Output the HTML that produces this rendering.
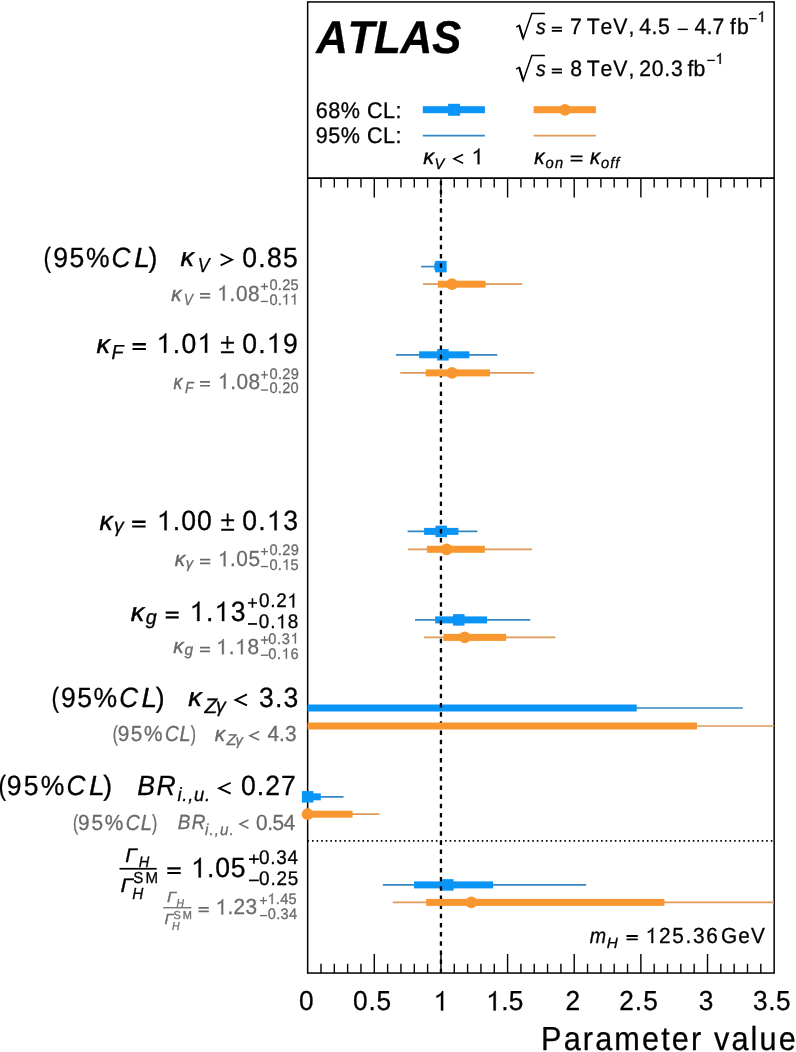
<!DOCTYPE html>
<html><head><meta charset="utf-8"><style>
html,body{margin:0;padding:0;background:#fff;}
svg{display:block;will-change:transform;}
text{font-family:"Liberation Sans",sans-serif;font-kerning:none;text-rendering:geometricPrecision;}
</style></head><body>
<svg width="796" height="1052" viewBox="0 0 796 1052">
<rect width="796" height="1052" fill="#fff"/>
<rect x="307.65" y="1.95" width="466.50" height="971.10" fill="none" stroke="#000" stroke-width="1.5"/>
<line x1="307.65" y1="178.2" x2="774.15" y2="178.2" stroke="#000" stroke-width="1.7"/>
<path d="M320.98 178.2V187.6 M320.98 973.05V963.8 M334.31 178.2V187.6 M334.31 973.05V963.8 M347.64 178.2V187.6 M347.64 973.05V963.8 M360.96 178.2V187.6 M360.96 973.05V963.8 M374.29 178.2V197.6 M374.29 973.05V954.0 M387.62 178.2V187.6 M387.62 973.05V963.8 M400.95 178.2V187.6 M400.95 973.05V963.8 M414.28 178.2V187.6 M414.28 973.05V963.8 M427.61 178.2V187.6 M427.61 973.05V963.8 M440.94 178.2V197.6 M440.94 973.05V954.0 M454.26 178.2V187.6 M454.26 973.05V963.8 M467.59 178.2V187.6 M467.59 973.05V963.8 M480.92 178.2V187.6 M480.92 973.05V963.8 M494.25 178.2V187.6 M494.25 973.05V963.8 M507.58 178.2V197.6 M507.58 973.05V954.0 M520.91 178.2V187.6 M520.91 973.05V963.8 M534.24 178.2V187.6 M534.24 973.05V963.8 M547.56 178.2V187.6 M547.56 973.05V963.8 M560.89 178.2V187.6 M560.89 973.05V963.8 M574.22 178.2V197.6 M574.22 973.05V954.0 M587.55 178.2V187.6 M587.55 973.05V963.8 M600.88 178.2V187.6 M600.88 973.05V963.8 M614.21 178.2V187.6 M614.21 973.05V963.8 M627.54 178.2V187.6 M627.54 973.05V963.8 M640.86 178.2V197.6 M640.86 973.05V954.0 M654.19 178.2V187.6 M654.19 973.05V963.8 M667.52 178.2V187.6 M667.52 973.05V963.8 M680.85 178.2V187.6 M680.85 973.05V963.8 M694.18 178.2V187.6 M694.18 973.05V963.8 M707.51 178.2V197.6 M707.51 973.05V954.0 M720.84 178.2V187.6 M720.84 973.05V963.8 M734.16 178.2V187.6 M734.16 973.05V963.8 M747.49 178.2V187.6 M747.49 973.05V963.8 M760.82 178.2V187.6 M760.82 973.05V963.8" stroke="#000" stroke-width="1.4" fill="none"/>
<line x1="421.1" y1="266.6" x2="440.9" y2="266.6" stroke="#3586c2" stroke-width="1.7"/><rect x="434.3" y="263.1" width="6.6" height="7" fill="#0a94f6"/><rect x="435.15" y="260.85" width="11.5" height="11.5" fill="#0a94f6"/>
<line x1="396.0" y1="354.8" x2="497.3" y2="354.8" stroke="#3586c2" stroke-width="1.7"/><rect x="419.1" y="351.3" width="50.3" height="7" fill="#0a94f6"/><rect x="437.15" y="349.05" width="11.5" height="11.5" fill="#0a94f6"/>
<line x1="407.6" y1="531.4" x2="477.4" y2="531.4" stroke="#3586c2" stroke-width="1.7"/><rect x="424.1" y="527.9" width="34.3" height="7" fill="#0a94f6"/><rect x="435.45" y="525.65" width="11.5" height="11.5" fill="#0a94f6"/>
<line x1="415.0" y1="619.9" x2="530.3" y2="619.9" stroke="#3586c2" stroke-width="1.7"/><rect x="435.2" y="616.4" width="51.9" height="7" fill="#0a94f6"/><rect x="453.05" y="614.15" width="11.5" height="11.5" fill="#0a94f6"/>
<line x1="307.6" y1="708.0" x2="742.8" y2="708.0" stroke="#3586c2" stroke-width="1.7"/><rect x="307.6" y="704.5" width="329.1" height="7" fill="#0a94f6"/>
<line x1="307.6" y1="796.8" x2="343.5" y2="796.8" stroke="#3586c2" stroke-width="1.7"/><rect x="307.6" y="793.3" width="13.2" height="7" fill="#0a94f6"/><rect x="301.90" y="791.05" width="11.5" height="11.5" fill="#0a94f6"/>
<line x1="382.8" y1="884.9" x2="586.2" y2="884.9" stroke="#3586c2" stroke-width="1.7"/><rect x="414.0" y="881.4" width="79.1" height="7" fill="#0a94f6"/><rect x="442.05" y="879.15" width="11.5" height="11.5" fill="#0a94f6"/>
<line x1="440.94" y1="178.2" x2="440.94" y2="973" stroke="#000" stroke-width="2.3" stroke-dasharray="4.5 4.663" stroke-dashoffset="6.68"/>
<line x1="307.4" y1="840.9" x2="774.15" y2="840.9" stroke="#000" stroke-width="1.6" stroke-dasharray="1.6 2.988"/>
<line x1="422.9" y1="284.2" x2="522.2" y2="284.2" stroke="#dd9a58" stroke-width="1.7"/><rect x="437.8" y="280.7" width="47.8" height="7" fill="#f8972f"/><circle cx="451.9" cy="284.2" r="5.9" fill="#f8972f"/>
<line x1="400.3" y1="372.9" x2="534.2" y2="372.9" stroke="#dd9a58" stroke-width="1.7"/><rect x="425.7" y="369.4" width="64.3" height="7" fill="#f8972f"/><circle cx="452.0" cy="372.9" r="5.9" fill="#f8972f"/>
<line x1="407.9" y1="549.3" x2="531.9" y2="549.3" stroke="#dd9a58" stroke-width="1.7"/><rect x="426.9" y="545.8" width="58.0" height="7" fill="#f8972f"/><circle cx="446.6" cy="549.3" r="5.9" fill="#f8972f"/>
<line x1="424.1" y1="637.4" x2="555.3" y2="637.4" stroke="#dd9a58" stroke-width="1.7"/><rect x="443.4" y="633.9" width="62.8" height="7" fill="#f8972f"/><circle cx="464.7" cy="637.4" r="5.9" fill="#f8972f"/>
<line x1="307.6" y1="726.0" x2="774.1" y2="726.0" stroke="#dd9a58" stroke-width="1.7"/><rect x="307.6" y="722.5" width="389.4" height="7" fill="#f8972f"/>
<line x1="307.6" y1="814.2" x2="379.5" y2="814.2" stroke="#dd9a58" stroke-width="1.7"/><rect x="307.6" y="810.7" width="44.9" height="7" fill="#f8972f"/><circle cx="307.6" cy="814.2" r="5.9" fill="#f8972f"/>
<line x1="392.9" y1="902.4" x2="774.1" y2="902.4" stroke="#dd9a58" stroke-width="1.7"/><rect x="426.2" y="898.9" width="238.2" height="7" fill="#f8972f"/><circle cx="471.3" cy="902.4" r="5.9" fill="#f8972f"/>
<line x1="422.8" y1="135.7" x2="484.9" y2="135.7" stroke="#3586c2" stroke-width="1.7"/>
<rect x="422.8" y="106.2" width="62.1" height="7" fill="#0a94f6"/><rect x="448.1" y="103.8" width="12" height="12" fill="#0a94f6"/>
<line x1="533.6" y1="135.7" x2="595.9" y2="135.7" stroke="#dd9a58" stroke-width="1.7"/>
<rect x="533.6" y="106.2" width="62.3" height="7" fill="#f8972f"/><circle cx="565" cy="109.8" r="5.9" fill="#f8972f"/>
<text transform="translate(316.18 53.40) scale(0.96 1)" font-size="45.8" fill="#000" style="font-style:italic;font-weight:bold;letter-spacing:-0.361px;" stroke="#000" stroke-width="0.30" stroke-linejoin="round">ATLAS</text>
<path d="M516.2 27.2 L519.2 25.4 L523.2 38.6 L531.8 13.4 H544.9" fill="none" stroke="#000" stroke-width="1.45" stroke-linejoin="miter"/>
<path d="M519.2 25.4 L523.2 38.6" fill="none" stroke="#000" stroke-width="2.0"/>
<text transform="translate(535.94 34.10) scale(0.9045284780578853 1)" font-size="21.6" fill="#000" style="font-style:italic;" stroke="#000" stroke-width="0.30" stroke-linejoin="round">s</text>
<path d="M551.8 26.8H562.0V28.5H551.8Z M551.8 30.1H562.0V31.700000000000003H551.8Z" fill="#000"/>
<path d="M516.2 69.2 L519.2 67.4 L523.2 80.6 L531.8 55.4 H544.9" fill="none" stroke="#000" stroke-width="1.45" stroke-linejoin="miter"/>
<path d="M519.2 67.4 L523.2 80.6" fill="none" stroke="#000" stroke-width="2.0"/>
<text transform="translate(535.94 75.80) scale(0.9045284780578853 1)" font-size="21.6" fill="#000" style="font-style:italic;" stroke="#000" stroke-width="0.30" stroke-linejoin="round">s</text>
<path d="M551.8 68.5H562.0V70.2H551.8Z M551.8 71.8H562.0V73.39999999999999H551.8Z" fill="#000"/>
<text transform="translate(570.12 34.10) scale(0.955 1)" font-size="22.2" fill="#000" style="" stroke="#000" stroke-width="0.30" stroke-linejoin="round">7</text>
<text transform="translate(586.83 34.10) scale(0.955 1)" font-size="22.2" fill="#000" style="letter-spacing:0.885px;" stroke="#000" stroke-width="0.30" stroke-linejoin="round">TeV</text>
<text transform="translate(628.39 34.10) scale(0.955 1)" font-size="22.2" fill="#000" style="" stroke="#000" stroke-width="0.30" stroke-linejoin="round">,</text>
<text transform="translate(586.83 75.90) scale(0.955 1)" font-size="22.2" fill="#000" style="letter-spacing:0.885px;" stroke="#000" stroke-width="0.30" stroke-linejoin="round">TeV</text>
<text transform="translate(628.39 75.90) scale(0.955 1)" font-size="22.2" fill="#000" style="" stroke="#000" stroke-width="0.30" stroke-linejoin="round">,</text>
<text transform="translate(639.31 34.10) scale(0.955 1)" font-size="22.2" fill="#000" style="letter-spacing:0.528px;" stroke="#000" stroke-width="0.30" stroke-linejoin="round">4.5</text>
<rect x="677.7" y="28.6" width="10.1" height="1.5" fill="#000"/>
<text transform="translate(694.51 34.10) scale(0.955 1)" font-size="22.2" fill="#000" style="letter-spacing:0.146px;" stroke="#000" stroke-width="0.30" stroke-linejoin="round">4.7</text>
<text transform="translate(729.90 34.10) scale(0.955 1)" font-size="22.2" fill="#000" style="letter-spacing:1.158px;" stroke="#000" stroke-width="0.30" stroke-linejoin="round">fb</text>
<rect x="749.1" y="18.05" width="7.5" height="1.3" fill="#000"/>
<text transform="translate(757.51 22.00) scale(0.955 1)" font-size="15.4" fill="#000" style="" stroke="#000" stroke-width="0.30" stroke-linejoin="round"> </text>
<path transform="translate(757.51 22.00) scale(14.707 15.4)" d="M0.359 0V-0.703H0.318C0.29 -0.63 0.215 -0.572 0.101 -0.53V-0.458C0.17 -0.48 0.23 -0.512 0.274 -0.55V0Z" fill="#000" stroke="#000" stroke-width="0.0195" stroke-linejoin="round"/>
<text transform="translate(570.29 75.90) scale(0.955 1)" font-size="22.2" fill="#000" style="" stroke="#000" stroke-width="0.30" stroke-linejoin="round">8</text>
<text transform="translate(639.24 75.90) scale(0.955 1)" font-size="22.2" fill="#000" style="letter-spacing:0.780px;" stroke="#000" stroke-width="0.30" stroke-linejoin="round">20.3</text>
<text transform="translate(687.50 75.90) scale(0.955 1)" font-size="22.2" fill="#000" style="letter-spacing:0.111px;" stroke="#000" stroke-width="0.30" stroke-linejoin="round">fb</text>
<rect x="707.2" y="59.75" width="7.6" height="1.3" fill="#000"/>
<text transform="translate(715.51 63.90) scale(0.955 1)" font-size="15.4" fill="#000" style="" stroke="#000" stroke-width="0.30" stroke-linejoin="round"> </text>
<path transform="translate(715.51 63.90) scale(14.707 15.4)" d="M0.359 0V-0.703H0.318C0.29 -0.63 0.215 -0.572 0.101 -0.53V-0.458C0.17 -0.48 0.23 -0.512 0.274 -0.55V0Z" fill="#000" stroke="#000" stroke-width="0.0195" stroke-linejoin="round"/>
<text transform="translate(315.70 117.80) scale(0.955 1)" font-size="22.6" fill="#000" style="letter-spacing:0.536px;" stroke="#000" stroke-width="0.30" stroke-linejoin="round">68% CL:</text>
<text transform="translate(315.79 143.40) scale(0.955 1)" font-size="22.6" fill="#000" style="letter-spacing:0.521px;" stroke="#000" stroke-width="0.30" stroke-linejoin="round">95% CL:</text>
<text transform="translate(423.33 164.20) scale(1.0072094995759147 1)" font-size="21.6" fill="#000" style="font-style:italic;" stroke="#000" stroke-width="0.40" stroke-linejoin="round">κ</text>
<text transform="translate(434.62 168.70) scale(0.955 1)" font-size="15.4" fill="#000" style="font-style:italic;" stroke="#000" stroke-width="0.30" stroke-linejoin="round">V</text>
<path d="M463.10 154.42L453.96 158.85L463.10 163.28" stroke="#000" stroke-width="1.6" fill="none" stroke-linejoin="miter" stroke-miterlimit="10"/>
<text transform="translate(471.73 164.20) scale(0.955 1)" font-size="22.5" fill="#000" style="" stroke="#000" stroke-width="0.30" stroke-linejoin="round"> </text>
<path transform="translate(471.73 164.20) scale(21.488 22.5)" d="M0.359 0V-0.703H0.318C0.29 -0.63 0.215 -0.572 0.101 -0.53V-0.458C0.17 -0.48 0.23 -0.512 0.274 -0.55V0Z" fill="#000" stroke="#000" stroke-width="0.0133" stroke-linejoin="round"/>
<text transform="translate(534.15 164.10) scale(0.9541984732824387 1)" font-size="21.6" fill="#000" style="font-style:italic;" stroke="#000" stroke-width="0.40" stroke-linejoin="round">κ</text>
<text transform="translate(545.61 167.70) scale(0.955 1)" font-size="15.4" fill="#000" style="font-style:italic;letter-spacing:1.249px;" stroke="#000" stroke-width="0.30" stroke-linejoin="round">on</text>
<path d="M570.6 155.5H582.5V157.3H570.6Z M570.6 159.8H582.5V161.6H570.6Z" fill="#000"/>
<text transform="translate(589.95 164.10) scale(0.9453633022335353 1)" font-size="21.6" fill="#000" style="font-style:italic;" stroke="#000" stroke-width="0.40" stroke-linejoin="round">κ</text>
<text transform="translate(601.11 168.30) scale(0.955 1)" font-size="15.4" fill="#000" style="font-style:italic;letter-spacing:1.030px;" stroke="#000" stroke-width="0.30" stroke-linejoin="round">off</text>
<text transform="translate(43.50 266.70) scale(0.8144427853943259 1)" font-size="27.8" fill="#000" style="" stroke="#000" stroke-width="0.30" stroke-linejoin="round">(</text>
<text transform="translate(53.25 266.70) scale(0.955 1)" font-size="27.8" fill="#000" style="letter-spacing:1.651px;" stroke="#000" stroke-width="0.30" stroke-linejoin="round">95%</text>
<text transform="translate(111.56 266.70) scale(0.9421034600890729 1)" font-size="27.8" fill="#000" style="font-style:italic;" stroke="#000" stroke-width="0.30" stroke-linejoin="round">C</text>
<text transform="translate(134.13 266.70) scale(1.0119377025851857 1)" font-size="27.8" fill="#000" style="font-style:italic;" stroke="#000" stroke-width="0.30" stroke-linejoin="round">L</text>
<text transform="translate(148.44 266.70) scale(0.955 1)" font-size="27.8" fill="#000" style="" stroke="#000" stroke-width="0.30" stroke-linejoin="round">)</text>
<text transform="translate(180.44 266.30) scale(1.0270380513956059 1)" font-size="26.2" fill="#000" style="font-style:italic;" stroke="#000" stroke-width="0.50" stroke-linejoin="round">κ</text>
<text transform="translate(197.75 271.70) scale(0.8772521762602056 1)" font-size="20.3" fill="#000" style="font-style:italic;" stroke="#000" stroke-width="0.30" stroke-linejoin="round">V</text>
<path d="M220.65 254.20L231.96 259.77L220.65 265.34" stroke="#000" stroke-width="1.9" fill="none" stroke-linejoin="miter" stroke-miterlimit="10"/>
<text transform="translate(242.26 266.70) scale(0.955 1)" font-size="27.8" fill="#000" style="letter-spacing:1.356px;" stroke="#000" stroke-width="0.30" stroke-linejoin="round">0.85</text>
<text transform="translate(96.44 353.00) scale(1.0343220092069219 1)" font-size="26.2" fill="#000" style="font-style:italic;" stroke="#000" stroke-width="0.50" stroke-linejoin="round">κ</text>
<text transform="translate(111.39 358.80) scale(0.9663657576543235 1)" font-size="20.3" fill="#000" style="font-style:italic;" stroke="#000" stroke-width="0.30" stroke-linejoin="round">F</text>
<path d="M132.5 343.1H145.9V345.5H132.5Z M132.5 347.9H145.9V350.1H132.5Z" fill="#000"/>
<text transform="translate(156.72 352.80) scale(0.955 1)" font-size="27.8" fill="#000" style="letter-spacing:1.411px;" stroke="#000" stroke-width="0.30" stroke-linejoin="round"> .0 </text>
<path transform="translate(156.72 352.80) scale(26.549 27.8)" d="M0.359 0V-0.703H0.318C0.29 -0.63 0.215 -0.572 0.101 -0.53V-0.458C0.17 -0.48 0.23 -0.512 0.274 -0.55V0Z" fill="#000" stroke="#000" stroke-width="0.0108" stroke-linejoin="round"/>
<path transform="translate(197.67 352.80) scale(26.549 27.8)" d="M0.359 0V-0.703H0.318C0.29 -0.63 0.215 -0.572 0.101 -0.53V-0.458C0.17 -0.48 0.23 -0.512 0.274 -0.55V0Z" fill="#000" stroke="#000" stroke-width="0.0108" stroke-linejoin="round"/>
<path d="M221.00 342.69H233.90M227.45 336.02V348.86M221.00 352.19H233.90" stroke="#000" stroke-width="1.87" fill="none"/>
<text transform="translate(242.26 352.80) scale(0.955 1)" font-size="27.8" fill="#000" style="letter-spacing:1.368px;" stroke="#000" stroke-width="0.30" stroke-linejoin="round">0. 9</text>
<path transform="translate(267.02 352.80) scale(26.549 27.8)" d="M0.359 0V-0.703H0.318C0.29 -0.63 0.215 -0.572 0.101 -0.53V-0.458C0.17 -0.48 0.23 -0.512 0.274 -0.55V0Z" fill="#000" stroke="#000" stroke-width="0.0108" stroke-linejoin="round"/>
<text transform="translate(99.45 529.80) scale(0.9900705963381734 1)" font-size="26.6" fill="#000" style="font-style:italic;" stroke="#000" stroke-width="0.50" stroke-linejoin="round">κ</text>
<text transform="translate(113.95 532.40) scale(0.9985957247620527 1)" font-size="19.5" fill="#000" style="font-style:italic;" stroke="#000" stroke-width="0.30" stroke-linejoin="round">γ</text>
<path d="M132.2 520.6H145.6V522.9H132.2Z M132.2 525.4H145.6V527.6H132.2Z" fill="#000"/>
<text transform="translate(157.12 530.30) scale(0.955 1)" font-size="27.8" fill="#000" style="letter-spacing:0.996px;" stroke="#000" stroke-width="0.30" stroke-linejoin="round"> .00</text>
<path transform="translate(157.12 530.30) scale(26.549 27.8)" d="M0.359 0V-0.703H0.318C0.29 -0.63 0.215 -0.572 0.101 -0.53V-0.458C0.17 -0.48 0.23 -0.512 0.274 -0.55V0Z" fill="#000" stroke="#000" stroke-width="0.0108" stroke-linejoin="round"/>
<path d="M221.20 520.19H234.10M227.65 513.52V526.36M221.20 529.69H234.10" stroke="#000" stroke-width="1.87" fill="none"/>
<text transform="translate(242.16 530.30) scale(0.955 1)" font-size="27.8" fill="#000" style="letter-spacing:1.480px;" stroke="#000" stroke-width="0.30" stroke-linejoin="round">0. 3</text>
<path transform="translate(267.13 530.30) scale(26.549 27.8)" d="M0.359 0V-0.703H0.318C0.29 -0.63 0.215 -0.572 0.101 -0.53V-0.458C0.17 -0.48 0.23 -0.512 0.274 -0.55V0Z" fill="#000" stroke="#000" stroke-width="0.0108" stroke-linejoin="round"/>
<text transform="translate(130.74 621.10) scale(1.0343220092069239 1)" font-size="26.2" fill="#000" style="font-style:italic;" stroke="#000" stroke-width="0.50" stroke-linejoin="round">κ</text>
<text transform="translate(145.86 623.50) scale(0.9761829439146728 1)" font-size="20.3" fill="#000" style="font-style:italic;" stroke="#000" stroke-width="0.30" stroke-linejoin="round">g</text>
<path d="M165.7 611.4H178.7V613.8H165.7Z M165.7 616.2H178.7V618.4H165.7Z" fill="#000"/>
<text transform="translate(189.92 621.10) scale(0.955 1)" font-size="27.8" fill="#000" style="letter-spacing:1.391px;" stroke="#000" stroke-width="0.30" stroke-linejoin="round"> . 3</text>
<path transform="translate(189.92 621.10) scale(26.549 27.8)" d="M0.359 0V-0.703H0.318C0.29 -0.63 0.215 -0.572 0.101 -0.53V-0.458C0.17 -0.48 0.23 -0.512 0.274 -0.55V0Z" fill="#000" stroke="#000" stroke-width="0.0108" stroke-linejoin="round"/>
<path transform="translate(214.72 621.10) scale(26.549 27.8)" d="M0.359 0V-0.703H0.318C0.29 -0.63 0.215 -0.572 0.101 -0.53V-0.458C0.17 -0.48 0.23 -0.512 0.274 -0.55V0Z" fill="#000" stroke="#000" stroke-width="0.0108" stroke-linejoin="round"/>
<path d="M247.90 602.95H257.00M252.45 598.20V607.70" stroke="#000" stroke-width="1.6" fill="none"/>
<text transform="translate(258.96 607.40) scale(0.955 1)" font-size="19.8" fill="#000" style="letter-spacing:0.755px;" stroke="#000" stroke-width="0.30" stroke-linejoin="round">0.2 </text>
<path transform="translate(287.41 607.40) scale(18.909 19.8)" d="M0.359 0V-0.703H0.318C0.29 -0.63 0.215 -0.572 0.101 -0.53V-0.458C0.17 -0.48 0.23 -0.512 0.274 -0.55V0Z" fill="#000" stroke="#000" stroke-width="0.0152" stroke-linejoin="round"/>
<rect x="248.00" y="623.10" width="9.00" height="1.70" fill="#000"/>
<text transform="translate(258.86 628.30) scale(0.955 1)" font-size="19.8" fill="#000" style="letter-spacing:0.891px;" stroke="#000" stroke-width="0.30" stroke-linejoin="round">0. 8</text>
<path transform="translate(276.33 628.30) scale(18.909 19.8)" d="M0.359 0V-0.703H0.318C0.29 -0.63 0.215 -0.572 0.101 -0.53V-0.458C0.17 -0.48 0.23 -0.512 0.274 -0.55V0Z" fill="#000" stroke="#000" stroke-width="0.0152" stroke-linejoin="round"/>
<text transform="translate(51.40 706.90) scale(0.8107508416708702 1)" font-size="27.8" fill="#000" style="" stroke="#000" stroke-width="0.30" stroke-linejoin="round">(</text>
<text transform="translate(61.11 706.90) scale(0.955 1)" font-size="27.8" fill="#000" style="letter-spacing:1.522px;" stroke="#000" stroke-width="0.30" stroke-linejoin="round">95%</text>
<text transform="translate(119.16 706.90) scale(0.9378328188375352 1)" font-size="27.8" fill="#000" style="font-style:italic;" stroke="#000" stroke-width="0.30" stroke-linejoin="round">C</text>
<text transform="translate(141.62 706.90) scale(1.0073504963177995 1)" font-size="27.8" fill="#000" style="font-style:italic;" stroke="#000" stroke-width="0.30" stroke-linejoin="round">L</text>
<text transform="translate(155.87 706.90) scale(0.955 1)" font-size="27.8" fill="#000" style="" stroke="#000" stroke-width="0.30" stroke-linejoin="round">)</text>
<text transform="translate(188.14 706.00) scale(1.0343220092069239 1)" font-size="26.2" fill="#000" style="font-style:italic;" stroke="#000" stroke-width="0.50" stroke-linejoin="round">κ</text>
<text transform="translate(204.60 712.50) scale(0.9914604139528163 1)" font-size="21.0" fill="#000" style="font-style:italic;" stroke="#000" stroke-width="0.30" stroke-linejoin="round">Z</text>
<text transform="translate(216.05 712.10) scale(1.003743125405156 1)" font-size="19.4" fill="#000" style="font-style:italic;" stroke="#000" stroke-width="0.30" stroke-linejoin="round">γ</text>
<path d="M246.95 694.46L235.54 699.90L246.95 705.35" stroke="#000" stroke-width="1.9" fill="none" stroke-linejoin="miter" stroke-miterlimit="10"/>
<text transform="translate(259.09 706.90) scale(0.955 1)" font-size="27.8" fill="#000" style="letter-spacing:1.138px;" stroke="#000" stroke-width="0.30" stroke-linejoin="round">3.3</text>
<text transform="translate(-1.60 794.70) scale(0.8137043966496348 1)" font-size="27.8" fill="#000" style="" stroke="#000" stroke-width="0.30" stroke-linejoin="round">(</text>
<text transform="translate(6.85 794.70) scale(0.955 1)" font-size="27.8" fill="#000" style="letter-spacing:2.301px;" stroke="#000" stroke-width="0.30" stroke-linejoin="round">95%</text>
<text transform="translate(66.40 794.70) scale(0.9412493318387654 1)" font-size="27.8" fill="#000" style="font-style:italic;" stroke="#000" stroke-width="0.30" stroke-linejoin="round">C</text>
<text transform="translate(88.95 794.70) scale(1.0110202613317087 1)" font-size="27.8" fill="#000" style="font-style:italic;" stroke="#000" stroke-width="0.30" stroke-linejoin="round">L</text>
<text transform="translate(103.25 794.70) scale(0.955 1)" font-size="27.8" fill="#000" style="" stroke="#000" stroke-width="0.30" stroke-linejoin="round">)</text>
<text transform="translate(137.28 794.50) scale(0.955 1)" font-size="27.8" fill="#000" style="font-style:italic;letter-spacing:1.643px;" stroke="#000" stroke-width="0.30" stroke-linejoin="round">BR</text>
<text transform="translate(177.51 800.60) scale(0.955 1)" font-size="19.3" fill="#000" style="font-style:italic;letter-spacing:0.772px;" stroke="#000" stroke-width="0.30" stroke-linejoin="round">i.,u.</text>
<path d="M230.65 782.75L219.14 788.20L230.65 793.64" stroke="#000" stroke-width="1.9" fill="none" stroke-linejoin="miter" stroke-miterlimit="10"/>
<text transform="translate(241.06 794.50) scale(0.955 1)" font-size="27.8" fill="#000" style="letter-spacing:1.082px;" stroke="#000" stroke-width="0.30" stroke-linejoin="round">0.27</text>
<text transform="translate(125.25 861.60) scale(1.0702341137123748 1)" font-size="19.5" fill="#000" style="font-style:italic;" stroke="#000" stroke-width="0.30" stroke-linejoin="round">Γ</text>
<text transform="translate(138.65 866.60) scale(0.9539461256564278 1)" font-size="15.3" fill="#000" style="font-style:italic;" stroke="#000" stroke-width="0.30" stroke-linejoin="round">H</text>
<rect x="119.5" y="867.9" width="37.2" height="1.7" fill="#000"/>
<text transform="translate(120.61 891.70) scale(1.1415830546265329 1)" font-size="19.5" fill="#000" style="font-style:italic;" stroke="#000" stroke-width="0.30" stroke-linejoin="round">Γ</text>
<text transform="translate(133.31 883.30) scale(0.955 1)" font-size="15.8" fill="#000" style="letter-spacing:2.197px;" stroke="#000" stroke-width="0.30" stroke-linejoin="round">SM</text>
<text transform="translate(132.13 899.30) scale(0.9573699421965314 1)" font-size="16.0" fill="#000" style="font-style:italic;" stroke="#000" stroke-width="0.30" stroke-linejoin="round">H</text>
<path d="M167.3 867.3H180.7V869.5H167.3Z M167.3 872.0H180.7V874.1H167.3Z" fill="#000"/>
<text transform="translate(191.32 877.40) scale(0.955 1)" font-size="27.8" fill="#000" style="letter-spacing:0.919px;" stroke="#000" stroke-width="0.30" stroke-linejoin="round"> .05</text>
<path transform="translate(191.32 877.40) scale(26.549 27.8)" d="M0.359 0V-0.703H0.318C0.29 -0.63 0.215 -0.572 0.101 -0.53V-0.458C0.17 -0.48 0.23 -0.512 0.274 -0.55V0Z" fill="#000" stroke="#000" stroke-width="0.0108" stroke-linejoin="round"/>
<path d="M249.00 859.10H258.80M253.90 854.40V863.80" stroke="#000" stroke-width="1.6" fill="none"/>
<text transform="translate(259.06 863.60) scale(0.955 1)" font-size="19.8" fill="#000" style="letter-spacing:0.799px;" stroke="#000" stroke-width="0.30" stroke-linejoin="round">0.34</text>
<rect x="249.00" y="879.55" width="9.80" height="1.70" fill="#000"/>
<text transform="translate(259.06 884.60) scale(0.955 1)" font-size="19.8" fill="#000" style="letter-spacing:0.885px;" stroke="#000" stroke-width="0.30" stroke-linejoin="round">0.25</text>
<text transform="translate(171.25 300.70) scale(0.9817234292425148 1)" font-size="20.8" fill="#6a6a6a" style="font-style:italic;" stroke="#6a6a6a" stroke-width="0.45" stroke-linejoin="round">κ</text>
<text transform="translate(183.81 304.50) scale(0.8561643835616438 1)" font-size="16.0" fill="#6a6a6a" style="font-style:italic;" stroke="#6a6a6a" stroke-width="0.30" stroke-linejoin="round">V</text>
<path d="M200.0 293.0H210.2V294.7H200.0Z M200.0 296.8H210.2V298.5H200.0Z" fill="#6a6a6a"/>
<text transform="translate(217.20 300.60) scale(0.955 1)" font-size="21.8" fill="#6a6a6a" style="letter-spacing:0.693px;" stroke="#6a6a6a" stroke-width="0.30" stroke-linejoin="round"> .08</text>
<path transform="translate(217.20 300.60) scale(20.819 21.8)" d="M0.359 0V-0.703H0.318C0.29 -0.63 0.215 -0.572 0.101 -0.53V-0.458C0.17 -0.48 0.23 -0.512 0.274 -0.55V0Z" fill="#6a6a6a" stroke="#6a6a6a" stroke-width="0.0138" stroke-linejoin="round"/>
<path d="M260.85 286.50H268.00M264.43 283.00V290.00" stroke="#6a6a6a" stroke-width="1.3" fill="none"/>
<text transform="translate(269.43 289.80) scale(0.955 1)" font-size="15.3" fill="#6a6a6a" style="letter-spacing:0.297px;" stroke="#6a6a6a" stroke-width="0.30" stroke-linejoin="round">0.25</text>
<rect x="260.85" y="300.77" width="7.15" height="1.35" fill="#6a6a6a"/>
<text transform="translate(269.43 304.60) scale(0.955 1)" font-size="15.3" fill="#6a6a6a" style="letter-spacing:0.144px;" stroke="#6a6a6a" stroke-width="0.30" stroke-linejoin="round">0.  </text>
<path transform="translate(281.89 304.60) scale(14.611 15.3)" d="M0.359 0V-0.703H0.318C0.29 -0.63 0.215 -0.572 0.101 -0.53V-0.458C0.17 -0.48 0.23 -0.512 0.274 -0.55V0Z" fill="#6a6a6a" stroke="#6a6a6a" stroke-width="0.0196" stroke-linejoin="round"/>
<path transform="translate(290.15 304.60) scale(14.611 15.3)" d="M0.359 0V-0.703H0.318C0.29 -0.63 0.215 -0.572 0.101 -0.53V-0.458C0.17 -0.48 0.23 -0.512 0.274 -0.55V0Z" fill="#6a6a6a" stroke="#6a6a6a" stroke-width="0.0196" stroke-linejoin="round"/>
<text transform="translate(173.40 388.70) scale(0.8440986494421624 1)" font-size="20.8" fill="#6a6a6a" style="font-style:italic;" stroke="#6a6a6a" stroke-width="0.45" stroke-linejoin="round">κ</text>
<text transform="translate(185.06 393.10) scale(0.8771929824561415 1)" font-size="16.0" fill="#6a6a6a" style="font-style:italic;" stroke="#6a6a6a" stroke-width="0.30" stroke-linejoin="round">F</text>
<path d="M200.0 381.1H210.0V382.8H200.0Z M200.0 384.9H210.0V386.6H200.0Z" fill="#6a6a6a"/>
<text transform="translate(218.10 388.70) scale(0.955 1)" font-size="21.8" fill="#6a6a6a" style="letter-spacing:0.518px;" stroke="#6a6a6a" stroke-width="0.30" stroke-linejoin="round"> .08</text>
<path transform="translate(218.10 388.70) scale(20.819 21.8)" d="M0.359 0V-0.703H0.318C0.29 -0.63 0.215 -0.572 0.101 -0.53V-0.458C0.17 -0.48 0.23 -0.512 0.274 -0.55V0Z" fill="#6a6a6a" stroke="#6a6a6a" stroke-width="0.0138" stroke-linejoin="round"/>
<path d="M260.85 374.95H268.00M264.43 371.10V378.80" stroke="#6a6a6a" stroke-width="1.3" fill="none"/>
<text transform="translate(269.43 378.80) scale(0.955 1)" font-size="15.3" fill="#6a6a6a" style="letter-spacing:0.392px;" stroke="#6a6a6a" stroke-width="0.30" stroke-linejoin="round">0.29</text>
<rect x="260.85" y="389.38" width="7.15" height="1.35" fill="#6a6a6a"/>
<text transform="translate(269.43 393.30) scale(0.955 1)" font-size="15.3" fill="#6a6a6a" style="letter-spacing:0.281px;" stroke="#6a6a6a" stroke-width="0.30" stroke-linejoin="round">0.20</text>
<text transform="translate(174.85 566.30) scale(0.9908984145625377 1)" font-size="20.8" fill="#6a6a6a" style="font-style:italic;" stroke="#6a6a6a" stroke-width="0.45" stroke-linejoin="round">κ</text>
<text transform="translate(185.80 568.00) scale(1.0141987829614618 1)" font-size="14.6" fill="#6a6a6a" style="font-style:italic;" stroke="#6a6a6a" stroke-width="0.30" stroke-linejoin="round">γ</text>
<path d="M200.0 558.7H210.3V560.4H200.0Z M200.0 562.5H210.3V564.2H200.0Z" fill="#6a6a6a"/>
<text transform="translate(218.00 566.30) scale(0.955 1)" font-size="21.8" fill="#6a6a6a" style="letter-spacing:0.511px;" stroke="#6a6a6a" stroke-width="0.30" stroke-linejoin="round"> .05</text>
<path transform="translate(218.00 566.30) scale(20.819 21.8)" d="M0.359 0V-0.703H0.318C0.29 -0.63 0.215 -0.572 0.101 -0.53V-0.458C0.17 -0.48 0.23 -0.512 0.274 -0.55V0Z" fill="#6a6a6a" stroke="#6a6a6a" stroke-width="0.0138" stroke-linejoin="round"/>
<path d="M260.85 551.55H268.00M264.43 548.10V555.00" stroke="#6a6a6a" stroke-width="1.3" fill="none"/>
<text transform="translate(269.43 555.10) scale(0.955 1)" font-size="15.3" fill="#6a6a6a" style="letter-spacing:0.322px;" stroke="#6a6a6a" stroke-width="0.30" stroke-linejoin="round">0.29</text>
<rect x="260.85" y="565.88" width="7.15" height="1.35" fill="#6a6a6a"/>
<text transform="translate(269.43 569.80) scale(0.955 1)" font-size="15.3" fill="#6a6a6a" style="letter-spacing:0.297px;" stroke="#6a6a6a" stroke-width="0.30" stroke-linejoin="round">0. 5</text>
<path transform="translate(282.18 569.80) scale(14.611 15.3)" d="M0.359 0V-0.703H0.318C0.29 -0.63 0.215 -0.572 0.101 -0.53V-0.458C0.17 -0.48 0.23 -0.512 0.274 -0.55V0Z" fill="#6a6a6a" stroke="#6a6a6a" stroke-width="0.0196" stroke-linejoin="round"/>
<text transform="translate(173.15 653.40) scale(0.9908984145625377 1)" font-size="20.8" fill="#6a6a6a" style="font-style:italic;" stroke="#6a6a6a" stroke-width="0.45" stroke-linejoin="round">κ</text>
<text transform="translate(184.47 655.40) scale(0.9747706422018347 1)" font-size="16.0" fill="#6a6a6a" style="font-style:italic;" stroke="#6a6a6a" stroke-width="0.30" stroke-linejoin="round">g</text>
<path d="M200.0 646.7H210.0V648.4H200.0Z M200.0 650.5H210.0V652.2H200.0Z" fill="#6a6a6a"/>
<text transform="translate(216.30 654.30) scale(0.955 1)" font-size="21.8" fill="#6a6a6a" style="letter-spacing:0.832px;" stroke="#6a6a6a" stroke-width="0.30" stroke-linejoin="round"> . 8</text>
<path transform="translate(216.30 654.30) scale(20.819 21.8)" d="M0.359 0V-0.703H0.318C0.29 -0.63 0.215 -0.572 0.101 -0.53V-0.458C0.17 -0.48 0.23 -0.512 0.274 -0.55V0Z" fill="#6a6a6a" stroke="#6a6a6a" stroke-width="0.0138" stroke-linejoin="round"/>
<path transform="translate(235.25 654.30) scale(20.819 21.8)" d="M0.359 0V-0.703H0.318C0.29 -0.63 0.215 -0.572 0.101 -0.53V-0.458C0.17 -0.48 0.23 -0.512 0.274 -0.55V0Z" fill="#6a6a6a" stroke="#6a6a6a" stroke-width="0.0138" stroke-linejoin="round"/>
<path d="M260.80 640.00H268.30M264.55 636.10V643.90" stroke="#6a6a6a" stroke-width="1.3" fill="none"/>
<text transform="translate(268.13 643.60) scale(0.955 1)" font-size="15.3" fill="#6a6a6a" style="letter-spacing:0.807px;" stroke="#6a6a6a" stroke-width="0.30" stroke-linejoin="round">0.3 </text>
<path transform="translate(290.75 643.60) scale(14.611 15.3)" d="M0.359 0V-0.703H0.318C0.29 -0.63 0.215 -0.572 0.101 -0.53V-0.458C0.17 -0.48 0.23 -0.512 0.274 -0.55V0Z" fill="#6a6a6a" stroke="#6a6a6a" stroke-width="0.0196" stroke-linejoin="round"/>
<rect x="260.80" y="654.53" width="7.50" height="1.35" fill="#6a6a6a"/>
<text transform="translate(268.13 658.80) scale(0.955 1)" font-size="15.3" fill="#6a6a6a" style="letter-spacing:0.760px;" stroke="#6a6a6a" stroke-width="0.30" stroke-linejoin="round">0. 6</text>
<path transform="translate(281.77 658.80) scale(14.611 15.3)" d="M0.359 0V-0.703H0.318C0.29 -0.63 0.215 -0.572 0.101 -0.53V-0.458C0.17 -0.48 0.23 -0.512 0.274 -0.55V0Z" fill="#6a6a6a" stroke="#6a6a6a" stroke-width="0.0196" stroke-linejoin="round"/>
<text transform="translate(112.85 740.80) scale(0.7010559113726843 1)" font-size="21.8" fill="#6a6a6a" style="" stroke="#6a6a6a" stroke-width="0.30" stroke-linejoin="round">(</text>
<text transform="translate(117.82 740.80) scale(0.955 1)" font-size="21.8" fill="#6a6a6a" style="letter-spacing:1.544px;" stroke="#6a6a6a" stroke-width="0.30" stroke-linejoin="round">95%</text>
<text transform="translate(164.94 740.80) scale(0.8805701179554395 1)" font-size="21.8" fill="#6a6a6a" style="font-style:italic;" stroke="#6a6a6a" stroke-width="0.30" stroke-linejoin="round">C</text>
<text transform="translate(179.48 740.80) scale(0.91743119266055 1)" font-size="21.8" fill="#6a6a6a" style="font-style:italic;" stroke="#6a6a6a" stroke-width="0.30" stroke-linejoin="round">L</text>
<text transform="translate(190.71 740.80) scale(0.7097109226241984 1)" font-size="21.8" fill="#6a6a6a" style="" stroke="#6a6a6a" stroke-width="0.30" stroke-linejoin="round">)</text>
<text transform="translate(214.85 740.80) scale(0.9908984145625377 1)" font-size="20.8" fill="#6a6a6a" style="font-style:italic;" stroke="#6a6a6a" stroke-width="0.45" stroke-linejoin="round">κ</text>
<text transform="translate(226.56 745.00) scale(1.0309178556908607 1)" font-size="15.7" fill="#6a6a6a" style="font-style:italic;" stroke="#6a6a6a" stroke-width="0.30" stroke-linejoin="round">Z</text>
<text transform="translate(235.60 744.70) scale(1.0004933940025194 1)" font-size="14.8" fill="#6a6a6a" style="font-style:italic;" stroke="#6a6a6a" stroke-width="0.30" stroke-linejoin="round">γ</text>
<path d="M259.15 731.47L250.00 735.75L259.15 740.03" stroke="#6a6a6a" stroke-width="1.5" fill="none" stroke-linejoin="miter" stroke-miterlimit="10"/>
<text transform="translate(267.42 740.80) scale(0.955 1)" font-size="21.8" fill="#6a6a6a" style="letter-spacing:0.082px;" stroke="#6a6a6a" stroke-width="0.30" stroke-linejoin="round">4.3</text>
<text transform="translate(72.94 830.10) scale(0.7122935523687931 1)" font-size="21.8" fill="#6a6a6a" style="" stroke="#6a6a6a" stroke-width="0.30" stroke-linejoin="round">(</text>
<text transform="translate(78.00 830.10) scale(0.955 1)" font-size="21.8" fill="#6a6a6a" style="letter-spacing:1.904px;" stroke="#6a6a6a" stroke-width="0.30" stroke-linejoin="round">95%</text>
<text transform="translate(125.86 830.10) scale(0.894685298637831 1)" font-size="21.8" fill="#6a6a6a" style="font-style:italic;" stroke="#6a6a6a" stroke-width="0.30" stroke-linejoin="round">C</text>
<text transform="translate(140.63 830.10) scale(0.93213724137151 1)" font-size="21.8" fill="#6a6a6a" style="font-style:italic;" stroke="#6a6a6a" stroke-width="0.30" stroke-linejoin="round">L</text>
<text transform="translate(152.04 830.10) scale(0.7210872999289024 1)" font-size="21.8" fill="#6a6a6a" style="" stroke="#6a6a6a" stroke-width="0.30" stroke-linejoin="round">)</text>
<text transform="translate(177.81 829.20) scale(0.92 1)" font-size="20.6" fill="#6a6a6a" style="font-style:italic;letter-spacing:1.359px;" stroke="#6a6a6a" stroke-width="0.30" stroke-linejoin="round">BR</text>
<text transform="translate(204.96 834.50) scale(0.955 1)" font-size="16.0" fill="#6a6a6a" style="font-style:italic;letter-spacing:1.071px;" stroke="#6a6a6a" stroke-width="0.30" stroke-linejoin="round">i.,u.</text>
<path d="M248.45 819.97L239.90 824.10L248.45 828.23" stroke="#6a6a6a" stroke-width="1.5" fill="none" stroke-linejoin="miter" stroke-miterlimit="10"/>
<text transform="translate(256.09 830.10) scale(0.955 1)" font-size="21.8" fill="#6a6a6a" style="letter-spacing:-0.453px;" stroke="#6a6a6a" stroke-width="0.30" stroke-linejoin="round">0.54</text>
<text transform="translate(166.89 901.70) scale(1.131625967837999 1)" font-size="14.6" fill="#6a6a6a" style="font-style:italic;" stroke="#6a6a6a" stroke-width="0.30" stroke-linejoin="round">Γ</text>
<text transform="translate(176.58 907.10) scale(0.9047499371701418 1)" font-size="11.5" fill="#6a6a6a" style="font-style:italic;" stroke="#6a6a6a" stroke-width="0.30" stroke-linejoin="round">H</text>
<rect x="163.2" y="907.1" width="28.2" height="1.3" fill="#6a6a6a"/>
<text transform="translate(164.51 923.50) scale(1.083978558665872 1)" font-size="14.6" fill="#6a6a6a" style="font-style:italic;" stroke="#6a6a6a" stroke-width="0.30" stroke-linejoin="round">Γ</text>
<text transform="translate(173.59 919.00) scale(0.955 1)" font-size="11.5" fill="#6a6a6a" style="letter-spacing:2.023px;" stroke="#6a6a6a" stroke-width="0.30" stroke-linejoin="round">SM</text>
<text transform="translate(171.97 929.90) scale(0.9173159085197266 1)" font-size="11.5" fill="#6a6a6a" style="font-style:italic;" stroke="#6a6a6a" stroke-width="0.30" stroke-linejoin="round">H</text>
<path d="M198.5 907.0H208.8V908.7H198.5Z M198.5 910.55H208.8V912.2H198.5Z" fill="#6a6a6a"/>
<text transform="translate(215.70 914.40) scale(0.955 1)" font-size="21.8" fill="#6a6a6a" style="letter-spacing:0.281px;" stroke="#6a6a6a" stroke-width="0.30" stroke-linejoin="round"> .23</text>
<path transform="translate(215.70 914.40) scale(20.819 21.8)" d="M0.359 0V-0.703H0.318C0.29 -0.63 0.215 -0.572 0.101 -0.53V-0.458C0.17 -0.48 0.23 -0.512 0.274 -0.55V0Z" fill="#6a6a6a" stroke="#6a6a6a" stroke-width="0.0138" stroke-linejoin="round"/>
<path d="M259.90 900.65H266.90M263.40 897.00V904.30" stroke="#6a6a6a" stroke-width="1.3" fill="none"/>
<text transform="translate(267.52 904.00) scale(0.955 1)" font-size="15.3" fill="#6a6a6a" style="letter-spacing:0.229px;" stroke="#6a6a6a" stroke-width="0.30" stroke-linejoin="round"> .45</text>
<path transform="translate(267.52 904.00) scale(14.611 15.3)" d="M0.359 0V-0.703H0.318C0.29 -0.63 0.215 -0.572 0.101 -0.53V-0.458C0.17 -0.48 0.23 -0.512 0.274 -0.55V0Z" fill="#6a6a6a" stroke="#6a6a6a" stroke-width="0.0196" stroke-linejoin="round"/>
<rect x="259.90" y="914.93" width="7.00" height="1.35" fill="#6a6a6a"/>
<text transform="translate(267.63 918.90) scale(0.955 1)" font-size="15.3" fill="#6a6a6a" style="letter-spacing:0.405px;" stroke="#6a6a6a" stroke-width="0.30" stroke-linejoin="round">0.34</text>
<text transform="translate(589.67 943.10) scale(0.9121111446692856 1)" font-size="21.5" fill="#000" style="font-style:italic;" stroke="#000" stroke-width="0.30" stroke-linejoin="round">m</text>
<text transform="translate(606.63 948.20) scale(1.021194605009636 1)" font-size="15.0" fill="#000" style="font-style:italic;" stroke="#000" stroke-width="0.30" stroke-linejoin="round">H</text>
<path d="M626.5 935.0H637.8V936.9H626.5Z M626.5 938.4H637.8V940.3H626.5Z" fill="#000"/>
<text transform="translate(645.70 943.10) scale(0.955 1)" font-size="21.8" fill="#000" style="letter-spacing:1.771px;" stroke="#000" stroke-width="0.30" stroke-linejoin="round"> 25.36</text>
<path transform="translate(645.70 943.10) scale(20.819 21.8)" d="M0.359 0V-0.703H0.318C0.29 -0.63 0.215 -0.572 0.101 -0.53V-0.458C0.17 -0.48 0.23 -0.512 0.274 -0.55V0Z" fill="#000" stroke="#000" stroke-width="0.0138" stroke-linejoin="round"/>
<text transform="translate(720.96 943.10) scale(0.955 1)" font-size="21.8" fill="#000" style="letter-spacing:1.145px;" stroke="#000" stroke-width="0.30" stroke-linejoin="round">GeV</text>
<text transform="translate(298.98 1010.40) scale(0.955 1)" font-size="27.5" fill="#000" style="" stroke="#000" stroke-width="0.30" stroke-linejoin="round">0</text>
<text transform="translate(353.08 1010.40) scale(0.955 1)" font-size="27.5" fill="#000" style="letter-spacing:0.849px;" stroke="#000" stroke-width="0.30" stroke-linejoin="round">0.5</text>
<text transform="translate(433.75 1010.40) scale(0.955 1)" font-size="27.5" fill="#000" style="" stroke="#000" stroke-width="0.30" stroke-linejoin="round"> </text>
<path transform="translate(433.75 1010.40) scale(26.262 27.5)" d="M0.359 0V-0.703H0.318C0.29 -0.63 0.215 -0.572 0.101 -0.53V-0.458C0.17 -0.48 0.23 -0.512 0.274 -0.55V0Z" fill="#000" stroke="#000" stroke-width="0.0109" stroke-linejoin="round"/>
<text transform="translate(486.35 1010.40) scale(0.955 1)" font-size="27.5" fill="#000" style="letter-spacing:0.236px;" stroke="#000" stroke-width="0.30" stroke-linejoin="round"> .5</text>
<path transform="translate(486.35 1010.40) scale(26.262 27.5)" d="M0.359 0V-0.703H0.318C0.29 -0.63 0.215 -0.572 0.101 -0.53V-0.458C0.17 -0.48 0.23 -0.512 0.274 -0.55V0Z" fill="#000" stroke="#000" stroke-width="0.0109" stroke-linejoin="round"/>
<text transform="translate(565.49 1010.40) scale(0.955 1)" font-size="27.5" fill="#000" style="" stroke="#000" stroke-width="0.30" stroke-linejoin="round">2</text>
<text transform="translate(619.19 1010.40) scale(0.955 1)" font-size="27.5" fill="#000" style="letter-spacing:1.105px;" stroke="#000" stroke-width="0.30" stroke-linejoin="round">2.5</text>
<text transform="translate(698.80 1010.40) scale(0.955 1)" font-size="27.5" fill="#000" style="" stroke="#000" stroke-width="0.30" stroke-linejoin="round">3</text>
<text transform="translate(753.00 1010.40) scale(0.955 1)" font-size="27.5" fill="#000" style="letter-spacing:0.626px;" stroke="#000" stroke-width="0.30" stroke-linejoin="round">3.5</text>
<text transform="translate(541.09 1050.30) scale(0.92 1)" font-size="33.3" fill="#000" style="letter-spacing:2.320px;" stroke="#000" stroke-width="0.30" stroke-linejoin="round">Parameter value</text>
</svg>
</body></html>
